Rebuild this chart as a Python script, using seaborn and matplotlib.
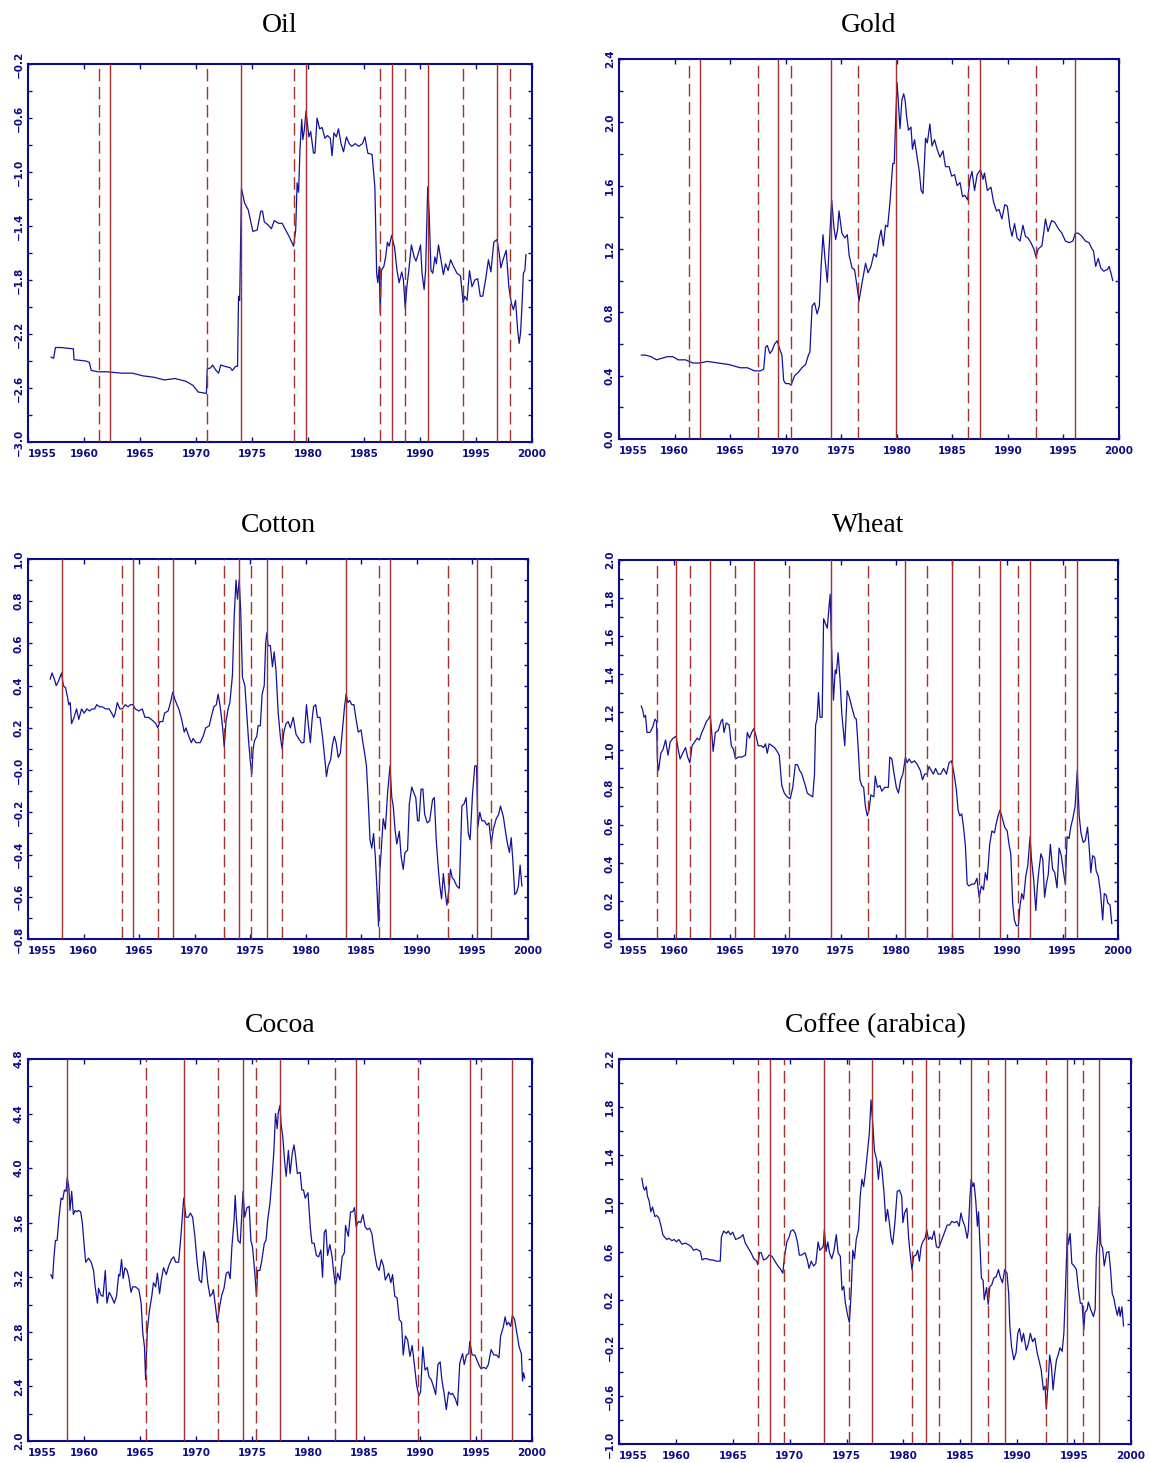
import matplotlib
matplotlib.use('Agg')
import matplotlib.pyplot as plt
import seaborn as sns
import pandas as pd
from matplotlib.ticker import MultipleLocator

sns.set_theme(style='white')
plt.rcParams['font.family'] = ['DejaVu Sans']
plt.rcParams['axes.unicode_minus'] = True

# ---------------- data (year, value) ----------------
OIL = [(1957.04,-2.37),(1957.29,-2.38),(1957.45,-2.30),(1957.93,-2.30),(1959.05,-2.31),(1959.11,-2.39),(1960.16,-2.40),(1960.48,-2.41),(1960.64,-2.47),(1961.28,-2.48),(1962.07,-2.48),(1963.35,-2.49),(1964.31,-2.49),(1965.26,-2.51),(1966.22,-2.52),(1967.17,-2.54),(1968.13,-2.53),(1969.09,-2.55),(1969.72,-2.58),(1970.2,-2.63),(1970.93,-2.64),(1971.0,-2.46),(1971.32,-2.45),(1971.48,-2.43),(1971.79,-2.47),(1972.02,-2.49),(1972.21,-2.43),(1972.59,-2.44),(1973.07,-2.45),(1973.23,-2.47),(1973.55,-2.44),(1973.71,-2.44),(1973.8,-1.92),(1973.9,-1.95),(1974.06,-1.12),(1974.34,-1.23),(1974.66,-1.28),(1975.08,-1.44),(1975.46,-1.43),(1975.78,-1.29),(1975.94,-1.29),(1976.1,-1.37),(1976.41,-1.39),(1976.73,-1.42),(1976.99,-1.36),(1977.37,-1.38),(1977.69,-1.38),(1978.33,-1.48),(1978.71,-1.55),(1978.9,-1.43),(1979.03,-1.08),(1979.16,-1.15),(1979.28,-0.84),(1979.44,-0.61),(1979.54,-0.76),(1979.67,-0.69),(1979.82,-0.55),(1980.08,-0.74),(1980.24,-0.70),(1980.49,-0.86),(1980.62,-0.86),(1980.81,-0.60),(1981.04,-0.68),(1981.26,-0.67),(1981.51,-0.75),(1981.74,-0.73),(1981.99,-0.75),(1982.15,-0.88),(1982.31,-0.71),(1982.53,-0.74),(1982.72,-0.68),(1982.95,-0.79),(1983.17,-0.85),(1983.43,-0.74),(1983.68,-0.79),(1983.9,-0.81),(1984.22,-0.79),(1984.54,-0.81),(1984.86,-0.79),(1985.08,-0.74),(1985.34,-0.86),(1985.72,-0.87),(1985.97,-1.11),(1986.13,-1.75),(1986.23,-1.82),(1986.36,-1.70),(1986.45,-2.05),(1986.55,-1.73),(1986.77,-1.70),(1986.93,-1.63),(1987.09,-1.52),(1987.25,-1.55),(1987.47,-1.47),(1987.73,-1.56),(1987.95,-1.73),(1988.14,-1.82),(1988.37,-1.74),(1988.52,-1.80),(1988.68,-2.01),(1988.84,-1.84),(1989.0,-1.73),(1989.23,-1.54),(1989.48,-1.63),(1989.64,-1.66),(1989.86,-1.60),(1990.05,-1.54),(1990.18,-1.75),(1990.37,-1.87),(1990.5,-1.73),(1990.69,-1.11),(1990.82,-1.31),(1990.98,-1.73),(1991.14,-1.75),(1991.33,-1.63),(1991.46,-1.68),(1991.65,-1.54),(1991.87,-1.65),(1992.09,-1.76),(1992.28,-1.68),(1992.51,-1.73),(1992.73,-1.65),(1992.99,-1.70),(1993.3,-1.75),(1993.62,-1.77),(1993.85,-1.97),(1994.0,-1.92),(1994.2,-1.95),(1994.42,-1.73),(1994.64,-1.85),(1994.9,-1.80),(1995.15,-1.79),(1995.38,-1.92),(1995.6,-1.92),(1995.85,-1.80),(1996.11,-1.65),(1996.33,-1.74),(1996.59,-1.52),(1996.87,-1.50),(1997.07,-1.60),(1997.22,-1.71),(1997.45,-1.64),(1997.7,-1.58),(1997.93,-1.85),(1998.15,-1.97),(1998.34,-2.02),(1998.53,-1.95),(1998.72,-2.17),(1998.85,-2.27),(1998.98,-2.19),(1999.1,-2.00),(1999.23,-1.75),(1999.36,-1.73),(1999.46,-1.61)]

GOLD = [(1957.0,0.53),(1957.39,0.53),(1957.88,0.52),(1958.37,0.50),(1958.86,0.51),(1959.35,0.52),(1959.84,0.52),(1960.33,0.50),(1960.99,0.50),(1961.64,0.48),(1962.3,0.48),(1962.95,0.49),(1963.93,0.48),(1964.91,0.47),(1965.9,0.45),(1966.55,0.45),(1967.21,0.43),(1967.7,0.43),(1968.02,0.44),(1968.19,0.58),(1968.35,0.59),(1968.58,0.54),(1968.78,0.56),(1969.01,0.60),(1969.23,0.62),(1969.5,0.56),(1969.66,0.53),(1969.82,0.37),(1969.99,0.35),(1970.31,0.35),(1970.48,0.34),(1970.81,0.40),(1971.13,0.42),(1971.46,0.45),(1971.79,0.47),(1972.05,0.53),(1972.18,0.55),(1972.38,0.84),(1972.6,0.86),(1972.83,0.79),(1973.03,0.84),(1973.19,1.09),(1973.36,1.29),(1973.55,1.13),(1973.75,0.99),(1973.95,1.26),(1974.14,1.51),(1974.34,1.34),(1974.5,1.26),(1974.67,1.32),(1974.8,1.44),(1975.06,1.30),(1975.32,1.27),(1975.55,1.29),(1975.71,1.16),(1975.98,1.08),(1976.2,1.07),(1976.43,0.96),(1976.6,0.87),(1976.76,0.94),(1976.96,1.02),(1977.19,1.11),(1977.41,1.05),(1977.68,1.09),(1977.94,1.17),(1978.17,1.15),(1978.4,1.26),(1978.59,1.32),(1978.79,1.22),(1978.99,1.35),(1979.18,1.34),(1979.38,1.49),(1979.64,1.74),(1979.77,1.74),(1979.9,2.02),(1980.03,2.25),(1980.16,2.10),(1980.29,1.96),(1980.46,2.14),(1980.62,2.18),(1980.75,2.14),(1980.88,2.04),(1981.05,1.95),(1981.28,1.97),(1981.41,1.83),(1981.6,1.89),(1981.83,1.78),(1982.03,1.69),(1982.19,1.57),(1982.36,1.55),(1982.59,1.90),(1982.75,1.87),(1982.98,1.99),(1983.17,1.85),(1983.4,1.89),(1983.63,1.83),(1983.89,1.78),(1984.16,1.82),(1984.38,1.72),(1984.71,1.72),(1984.94,1.66),(1985.2,1.67),(1985.43,1.60),(1985.69,1.62),(1985.92,1.53),(1986.12,1.54),(1986.38,1.51),(1986.58,1.64),(1986.77,1.69),(1987.0,1.57),(1987.23,1.67),(1987.53,1.70),(1987.76,1.64),(1987.89,1.68),(1988.15,1.57),(1988.48,1.59),(1988.7,1.50),(1988.97,1.44),(1989.2,1.45),(1989.46,1.39),(1989.72,1.48),(1989.95,1.47),(1990.18,1.34),(1990.37,1.28),(1990.6,1.36),(1990.83,1.27),(1991.09,1.25),(1991.35,1.35),(1991.58,1.28),(1991.81,1.27),(1992.07,1.24),(1992.34,1.20),(1992.53,1.15),(1992.73,1.20),(1993.06,1.22),(1993.22,1.30),(1993.38,1.39),(1993.61,1.31),(1993.94,1.38),(1994.2,1.37),(1994.53,1.33),(1994.86,1.30),(1995.18,1.25),(1995.51,1.24),(1995.84,1.25),(1996.07,1.30),(1996.33,1.30),(1996.66,1.28),(1996.98,1.25),(1997.31,1.24),(1997.57,1.20),(1997.7,1.19),(1997.9,1.09),(1998.13,1.14),(1998.36,1.08),(1998.62,1.06),(1998.95,1.07),(1999.11,1.09),(1999.27,1.05),(1999.44,1.00)]

COTTON = [(1956.99,0.43),(1957.16,0.46),(1957.38,0.43),(1957.54,0.40),(1957.73,0.42),(1958.02,0.46),(1958.18,0.40),(1958.38,0.39),(1958.54,0.35),(1958.67,0.31),(1958.8,0.32),(1958.92,0.22),(1959.15,0.25),(1959.37,0.29),(1959.57,0.24),(1959.82,0.29),(1960.05,0.27),(1960.31,0.29),(1960.53,0.28),(1960.79,0.29),(1961.01,0.29),(1961.18,0.31),(1961.43,0.30),(1961.69,0.30),(1961.98,0.29),(1962.3,0.29),(1962.53,0.27),(1962.72,0.25),(1962.85,0.27),(1963.04,0.32),(1963.27,0.29),(1963.49,0.29),(1963.75,0.31),(1964.01,0.30),(1964.23,0.31),(1964.46,0.31),(1964.65,0.29),(1964.97,0.28),(1965.29,0.29),(1965.52,0.25),(1965.84,0.25),(1966.1,0.24),(1966.32,0.23),(1966.51,0.22),(1966.68,0.20),(1966.87,0.23),(1967.13,0.23),(1967.29,0.27),(1967.61,0.28),(1967.87,0.33),(1968.03,0.37),(1968.25,0.33),(1968.57,0.29),(1968.83,0.24),(1969.06,0.18),(1969.22,0.20),(1969.47,0.16),(1969.7,0.13),(1969.86,0.15),(1970.12,0.13),(1970.5,0.13),(1970.76,0.16),(1970.99,0.20),(1971.31,0.21),(1971.53,0.26),(1971.73,0.30),(1971.95,0.31),(1972.11,0.36),(1972.3,0.30),(1972.5,0.21),(1972.66,0.11),(1972.82,0.23),(1973.01,0.29),(1973.17,0.32),(1973.4,0.45),(1973.56,0.73),(1973.72,0.90),(1973.85,0.81),(1974.01,0.90),(1974.14,0.76),(1974.3,0.44),(1974.52,0.40),(1974.68,0.27),(1974.85,0.14),(1975.01,0.04),(1975.14,-0.02),(1975.26,0.10),(1975.39,0.14),(1975.59,0.16),(1975.71,0.21),(1975.91,0.21),(1976.07,0.36),(1976.26,0.40),(1976.39,0.60),(1976.49,0.65),(1976.61,0.59),(1976.81,0.59),(1977.0,0.49),(1977.16,0.56),(1977.32,0.47),(1977.52,0.27),(1977.71,0.16),(1977.87,0.10),(1978.03,0.18),(1978.22,0.22),(1978.42,0.23),(1978.61,0.20),(1978.87,0.25),(1979.12,0.17),(1979.35,0.15),(1979.61,0.13),(1979.83,0.13),(1980.06,0.31),(1980.22,0.22),(1980.41,0.13),(1980.57,0.24),(1980.7,0.30),(1980.89,0.31),(1981.05,0.25),(1981.28,0.25),(1981.5,0.16),(1981.7,0.06),(1981.86,-0.03),(1982.02,0.02),(1982.24,0.05),(1982.4,0.12),(1982.57,0.16),(1982.73,0.13),(1982.92,0.06),(1983.11,0.08),(1983.3,0.19),(1983.47,0.29),(1983.63,0.36),(1983.79,0.32),(1983.95,0.33),(1984.14,0.31),(1984.33,0.31),(1984.53,0.24),(1984.72,0.18),(1984.98,0.19),(1985.14,0.13),(1985.3,0.08),(1985.46,0.02),(1985.62,-0.14),(1985.78,-0.33),(1985.94,-0.37),(1986.1,-0.30),(1986.26,-0.41),(1986.42,-0.58),(1986.55,-0.74),(1986.65,-0.49),(1986.78,-0.39),(1986.97,-0.23),(1987.16,-0.28),(1987.36,-0.11),(1987.58,0.02),(1987.74,-0.13),(1987.87,-0.17),(1988.03,-0.28),(1988.19,-0.35),(1988.42,-0.29),(1988.58,-0.41),(1988.77,-0.47),(1988.93,-0.39),(1989.16,-0.38),(1989.32,-0.16),(1989.54,-0.08),(1989.74,-0.11),(1989.9,-0.13),(1990.06,-0.24),(1990.19,-0.24),(1990.38,-0.09),(1990.54,-0.09),(1990.7,-0.21),(1990.93,-0.25),(1991.15,-0.24),(1991.41,-0.14),(1991.57,-0.13),(1991.73,-0.32),(1991.89,-0.44),(1992.05,-0.54),(1992.22,-0.61),(1992.38,-0.49),(1992.54,-0.57),(1992.7,-0.64),(1992.86,-0.58),(1993.02,-0.47),(1993.18,-0.51),(1993.34,-0.52),(1993.6,-0.55),(1993.82,-0.56),(1994.05,-0.17),(1994.24,-0.16),(1994.43,-0.13),(1994.63,-0.30),(1994.79,-0.33),(1995.01,-0.11),(1995.21,0.02),(1995.37,0.02),(1995.49,-0.27),(1995.66,-0.20),(1995.85,-0.24),(1996.07,-0.24),(1996.3,-0.26),(1996.49,-0.25),(1996.69,-0.35),(1996.88,-0.28),(1997.14,-0.23),(1997.36,-0.21),(1997.52,-0.17),(1997.78,-0.22),(1998.0,-0.30),(1998.16,-0.35),(1998.33,-0.39),(1998.49,-0.32),(1998.65,-0.44),(1998.81,-0.59),(1998.97,-0.58),(1999.13,-0.55),(1999.29,-0.45),(1999.45,-0.55)]

WHEAT = [(1957.0,1.23),(1957.13,1.21),(1957.26,1.17),(1957.39,1.18),(1957.52,1.09),(1957.79,1.09),(1958.05,1.12),(1958.24,1.16),(1958.38,1.15),(1958.47,0.93),(1958.57,0.89),(1958.77,0.98),(1958.97,1.00),(1959.2,1.05),(1959.42,0.97),(1959.62,1.04),(1959.88,1.06),(1960.15,1.07),(1960.34,1.00),(1960.51,0.95),(1960.74,0.98),(1961.0,1.01),(1961.19,0.96),(1961.39,0.93),(1961.59,1.02),(1961.82,1.04),(1962.05,1.06),(1962.24,1.05),(1962.47,1.09),(1962.7,1.12),(1962.9,1.15),(1963.06,1.16),(1963.23,1.18),(1963.36,1.09),(1963.49,0.99),(1963.69,1.09),(1963.95,1.10),(1964.21,1.15),(1964.34,1.16),(1964.47,1.09),(1964.67,1.14),(1964.93,1.13),(1965.13,1.02),(1965.32,1.00),(1965.52,0.95),(1965.75,0.96),(1966.08,0.96),(1966.41,0.97),(1966.57,1.09),(1966.77,1.06),(1966.96,1.09),(1967.16,1.11),(1967.36,1.07),(1967.55,1.02),(1967.82,1.02),(1968.04,1.01),(1968.21,1.03),(1968.37,0.98),(1968.54,1.03),(1968.8,1.02),(1969.03,1.01),(1969.26,0.99),(1969.45,0.97),(1969.68,0.81),(1969.91,0.77),(1970.17,0.75),(1970.44,0.74),(1970.67,0.80),(1970.9,0.92),(1971.09,0.92),(1971.29,0.89),(1971.49,0.87),(1971.75,0.82),(1971.98,0.77),(1972.21,0.76),(1972.47,0.75),(1972.63,0.87),(1972.73,1.13),(1972.86,1.16),(1972.99,1.30),(1973.13,1.17),(1973.32,1.17),(1973.45,1.69),(1973.78,1.64),(1974.04,1.82),(1974.17,1.54),(1974.34,1.26),(1974.5,1.42),(1974.6,1.40),(1974.76,1.51),(1974.93,1.37),(1975.09,1.19),(1975.36,1.02),(1975.58,1.31),(1975.75,1.28),(1976.01,1.22),(1976.24,1.17),(1976.4,1.16),(1976.57,1.01),(1976.73,0.84),(1976.89,0.81),(1977.06,0.80),(1977.22,0.70),(1977.39,0.65),(1977.55,0.68),(1977.71,0.76),(1977.98,0.75),(1978.11,0.86),(1978.3,0.80),(1978.53,0.81),(1978.7,0.78),(1978.96,0.80),(1979.29,0.80),(1979.42,0.96),(1979.61,0.95),(1979.81,0.87),(1980.01,0.80),(1980.2,0.77),(1980.4,0.84),(1980.6,0.87),(1980.83,0.96),(1980.99,0.93),(1981.16,0.95),(1981.38,0.93),(1981.65,0.94),(1981.91,0.92),(1982.17,0.89),(1982.37,0.84),(1982.56,0.87),(1982.76,0.87),(1982.96,0.91),(1983.15,0.89),(1983.35,0.87),(1983.55,0.90),(1983.78,0.87),(1984.01,0.87),(1984.27,0.90),(1984.53,0.87),(1984.76,0.93),(1984.99,0.94),(1985.19,0.88),(1985.42,0.79),(1985.58,0.68),(1985.74,0.65),(1985.91,0.66),(1986.07,0.59),(1986.24,0.49),(1986.4,0.29),(1986.56,0.28),(1986.83,0.29),(1987.06,0.29),(1987.28,0.32),(1987.48,0.22),(1987.68,0.28),(1987.87,0.26),(1988.04,0.35),(1988.2,0.31),(1988.43,0.50),(1988.63,0.57),(1988.86,0.56),(1989.02,0.61),(1989.19,0.65),(1989.35,0.68),(1989.51,0.65),(1989.78,0.59),(1990.01,0.57),(1990.17,0.50),(1990.33,0.45),(1990.5,0.19),(1990.66,0.10),(1990.83,0.07),(1991.02,0.07),(1991.15,0.17),(1991.32,0.24),(1991.48,0.21),(1991.68,0.33),(1991.87,0.39),(1992.07,0.54),(1992.2,0.42),(1992.4,0.31),(1992.59,0.15),(1992.73,0.28),(1992.86,0.36),(1993.05,0.45),(1993.22,0.42),(1993.38,0.22),(1993.54,0.29),(1993.71,0.34),(1993.9,0.50),(1994.1,0.37),(1994.3,0.35),(1994.5,0.27),(1994.69,0.48),(1994.89,0.44),(1995.09,0.35),(1995.25,0.29),(1995.41,0.54),(1995.58,0.53),(1995.74,0.59),(1995.94,0.64),(1996.13,0.70),(1996.33,0.89),(1996.5,0.65),(1996.66,0.56),(1996.86,0.51),(1997.05,0.52),(1997.25,0.59),(1997.38,0.50),(1997.55,0.35),(1997.71,0.44),(1997.9,0.43),(1998.03,0.36),(1998.23,0.33),(1998.43,0.24),(1998.62,0.10),(1998.76,0.24),(1998.95,0.23),(1999.08,0.19),(1999.28,0.18),(1999.44,0.08)]

COCOA = [(1957.04,3.22),(1957.2,3.19),(1957.3,3.33),(1957.45,3.47),(1957.6,3.47),(1957.75,3.62),(1957.95,3.78),(1958.1,3.77),(1958.25,3.84),(1958.4,3.83),(1958.5,3.93),(1958.65,3.86),(1958.75,3.69),(1958.9,3.83),(1959.05,3.66),(1959.2,3.69),(1959.35,3.68),(1959.5,3.69),(1959.7,3.68),(1959.85,3.60),(1960.0,3.45),(1960.15,3.31),(1960.4,3.34),(1960.65,3.31),(1960.85,3.25),(1961.0,3.13),(1961.2,3.01),(1961.3,3.12),(1961.5,3.07),(1961.7,3.06),(1961.9,3.25),(1962.05,3.01),(1962.25,3.09),(1962.45,3.06),(1962.7,3.01),(1962.9,3.06),(1963.1,3.22),(1963.2,3.21),(1963.35,3.33),(1963.5,3.19),(1963.65,3.27),(1963.85,3.25),(1964.0,3.20),(1964.2,3.09),(1964.35,3.13),(1964.6,3.13),(1964.9,3.11),(1965.1,3.01),(1965.25,2.79),(1965.4,2.69),(1965.5,2.45),(1965.65,2.81),(1965.85,2.96),(1966.05,3.06),(1966.2,3.16),(1966.4,3.13),(1966.55,3.23),(1966.75,3.08),(1966.9,3.18),(1967.1,3.27),(1967.35,3.22),(1967.55,3.28),(1967.8,3.33),(1968.0,3.35),(1968.2,3.31),(1968.45,3.31),(1968.65,3.50),(1968.9,3.78),(1969.1,3.64),(1969.3,3.64),(1969.5,3.67),(1969.7,3.64),(1969.9,3.50),(1970.1,3.31),(1970.3,3.18),(1970.5,3.16),(1970.7,3.39),(1970.85,3.33),(1971.05,3.16),(1971.25,3.06),(1971.45,3.08),(1971.55,3.11),(1971.75,2.98),(1971.9,2.87),(1972.1,2.98),(1972.3,3.07),(1972.5,3.12),(1972.7,3.23),(1972.9,3.24),(1973.05,3.19),(1973.2,3.42),(1973.4,3.62),(1973.5,3.80),(1973.6,3.64),(1973.75,3.47),(1973.95,3.45),(1974.1,3.67),(1974.2,3.83),(1974.35,3.64),(1974.55,3.71),(1974.75,3.72),(1974.9,3.47),(1975.05,3.42),(1975.25,3.23),(1975.4,3.06),(1975.5,3.25),(1975.7,3.25),(1975.85,3.31),(1976.1,3.45),(1976.25,3.47),(1976.4,3.62),(1976.6,3.74),(1976.8,3.94),(1976.95,4.12),(1977.1,4.40),(1977.25,4.29),(1977.35,4.41),(1977.5,4.46),(1977.6,4.32),(1977.75,4.23),(1977.9,4.06),(1978.05,3.94),(1978.25,4.13),(1978.4,3.96),(1978.6,4.11),(1978.75,4.17),(1978.9,4.08),(1979.05,3.96),(1979.3,3.97),(1979.45,3.84),(1979.6,3.84),(1979.75,3.78),(1980.0,3.82),(1980.2,3.57),(1980.35,3.45),(1980.55,3.45),(1980.75,3.36),(1980.95,3.35),(1981.15,3.40),(1981.3,3.20),(1981.45,3.53),(1981.6,3.55),(1981.75,3.36),(1981.95,3.44),(1982.15,3.35),(1982.3,3.23),(1982.45,3.14),(1982.65,3.23),(1982.85,3.18),(1983.05,3.35),(1983.25,3.38),(1983.35,3.58),(1983.6,3.50),(1983.8,3.68),(1984.0,3.68),(1984.15,3.71),(1984.3,3.57),(1984.5,3.61),(1984.7,3.60),(1984.9,3.66),(1985.1,3.57),(1985.3,3.55),(1985.5,3.56),(1985.7,3.52),(1985.9,3.40),(1986.15,3.28),(1986.35,3.25),(1986.55,3.33),(1986.75,3.28),(1986.9,3.18),(1987.2,3.23),(1987.4,3.16),(1987.55,3.22),(1987.75,3.06),(1987.95,3.05),(1988.15,2.89),(1988.35,2.87),(1988.5,2.63),(1988.7,2.77),(1988.9,2.74),(1989.1,2.62),(1989.3,2.70),(1989.5,2.56),(1989.7,2.41),(1989.9,2.33),(1990.05,2.36),(1990.25,2.69),(1990.45,2.52),(1990.65,2.54),(1990.8,2.47),(1991.0,2.45),(1991.2,2.40),(1991.4,2.34),(1991.6,2.56),(1991.8,2.58),(1991.95,2.45),(1992.15,2.35),(1992.35,2.23),(1992.55,2.36),(1992.75,2.34),(1992.9,2.35),(1993.15,2.31),(1993.35,2.26),(1993.55,2.57),(1993.8,2.64),(1993.95,2.56),(1994.15,2.63),(1994.35,2.64),(1994.45,2.73),(1994.65,2.63),(1994.9,2.63),(1995.1,2.59),(1995.3,2.55),(1995.45,2.53),(1995.7,2.54),(1995.9,2.53),(1996.1,2.56),(1996.35,2.67),(1996.6,2.63),(1996.85,2.63),(1997.05,2.61),(1997.2,2.77),(1997.45,2.84),(1997.6,2.91),(1997.75,2.85),(1997.9,2.87),(1998.1,2.84),(1998.25,2.92),(1998.45,2.89),(1998.65,2.79),(1998.85,2.69),(1999.05,2.64),(1999.15,2.44),(1999.25,2.50),(1999.35,2.46)]

COFFEE = [(1957.0,1.21),(1957.15,1.13),(1957.25,1.11),(1957.4,1.14),(1957.5,1.06),(1957.65,1.02),(1957.8,0.93),(1957.95,0.97),(1958.15,0.89),(1958.3,0.90),(1958.5,0.88),(1958.7,0.81),(1958.85,0.74),(1959.0,0.72),(1959.2,0.70),(1959.4,0.71),(1959.65,0.69),(1959.85,0.70),(1960.05,0.68),(1960.25,0.70),(1960.55,0.66),(1960.8,0.67),(1961.05,0.66),(1961.35,0.64),(1961.55,0.61),(1961.8,0.62),(1962.15,0.60),(1962.3,0.53),(1962.5,0.54),(1962.75,0.54),(1963.0,0.53),(1963.25,0.53),(1963.55,0.52),(1963.9,0.52),(1964.0,0.72),(1964.2,0.77),(1964.45,0.75),(1964.6,0.77),(1964.8,0.74),(1965.0,0.76),(1965.25,0.70),(1965.5,0.71),(1965.7,0.72),(1965.9,0.74),(1966.1,0.67),(1966.35,0.63),(1966.6,0.59),(1966.85,0.54),(1967.1,0.52),(1967.2,0.49),(1967.35,0.59),(1967.5,0.59),(1967.7,0.53),(1967.95,0.54),(1968.2,0.57),(1968.45,0.56),(1968.7,0.52),(1968.9,0.49),(1969.15,0.46),(1969.4,0.42),(1969.55,0.56),(1969.75,0.68),(1969.95,0.72),(1970.1,0.77),(1970.3,0.78),(1970.5,0.75),(1970.7,0.67),(1970.85,0.57),(1971.05,0.57),(1971.35,0.59),(1971.55,0.53),(1971.7,0.46),(1971.9,0.52),(1972.1,0.48),(1972.3,0.50),(1972.5,0.68),(1972.65,0.61),(1972.95,0.64),(1973.05,0.78),(1973.2,0.60),(1973.35,0.68),(1973.5,0.59),(1973.7,0.54),(1973.9,0.61),(1974.1,0.74),(1974.25,0.59),(1974.45,0.56),(1974.6,0.28),(1974.75,0.31),(1974.9,0.17),(1975.05,0.09),(1975.25,0.01),(1975.4,0.25),(1975.55,0.61),(1975.7,0.54),(1975.85,0.70),(1976.05,0.78),(1976.2,1.06),(1976.35,1.20),(1976.5,1.14),(1976.65,1.25),(1976.85,1.44),(1977.0,1.58),(1977.15,1.86),(1977.3,1.67),(1977.45,1.44),(1977.65,1.36),(1977.8,1.20),(1977.95,1.35),(1978.1,1.29),(1978.3,1.08),(1978.45,0.85),(1978.6,0.95),(1978.75,0.85),(1978.9,0.72),(1979.05,0.66),(1979.25,0.84),(1979.45,1.10),(1979.65,1.11),(1979.85,1.06),(1979.95,0.84),(1980.1,0.92),(1980.3,0.96),(1980.45,0.72),(1980.6,0.57),(1980.75,0.45),(1980.9,0.56),(1981.1,0.57),(1981.25,0.61),(1981.4,0.52),(1981.55,0.64),(1981.7,0.68),(1981.9,0.71),(1982.05,0.78),(1982.2,0.70),(1982.35,0.72),(1982.5,0.70),(1982.7,0.77),(1982.9,0.64),(1983.1,0.63),(1983.3,0.68),(1983.45,0.72),(1983.65,0.77),(1983.85,0.82),(1984.05,0.82),(1984.25,0.85),(1984.5,0.84),(1984.7,0.85),(1984.9,0.81),(1985.05,0.92),(1985.2,0.86),(1985.4,0.81),(1985.6,0.71),(1985.7,0.77),(1985.85,1.06),(1985.95,1.20),(1986.1,1.14),(1986.2,1.17),(1986.35,1.03),(1986.5,0.81),(1986.6,0.93),(1986.75,0.59),(1986.85,0.38),(1987.0,0.36),(1987.1,0.20),(1987.3,0.30),(1987.45,0.16),(1987.6,0.31),(1987.75,0.32),(1987.95,0.38),(1988.15,0.39),(1988.35,0.45),(1988.5,0.39),(1988.7,0.34),(1988.9,0.45),(1989.1,0.42),(1989.25,0.25),(1989.35,-0.02),(1989.5,-0.19),(1989.7,-0.30),(1989.9,-0.24),(1990.05,-0.08),(1990.2,-0.04),(1990.4,-0.15),(1990.55,-0.08),(1990.8,-0.22),(1991.0,-0.16),(1991.15,-0.08),(1991.35,-0.15),(1991.55,-0.12),(1991.75,-0.24),(1991.9,-0.30),(1992.1,-0.38),(1992.3,-0.55),(1992.45,-0.52),(1992.55,-0.71),(1992.7,-0.52),(1992.85,-0.26),(1993.0,-0.35),(1993.15,-0.55),(1993.3,-0.41),(1993.45,-0.30),(1993.6,-0.26),(1993.75,-0.20),(1993.95,-0.23),(1994.1,-0.08),(1994.25,0.31),(1994.4,0.75),(1994.5,0.66),(1994.65,0.75),(1994.8,0.50),(1995.0,0.48),(1995.2,0.45),(1995.35,0.31),(1995.55,0.17),(1995.7,0.17),(1995.85,-0.05),(1995.95,0.09),(1996.15,0.12),(1996.25,0.18),(1996.45,0.12),(1996.7,0.06),(1996.85,0.12),(1996.95,0.56),(1997.1,0.75),(1997.2,0.97),(1997.35,0.66),(1997.5,0.63),(1997.65,0.48),(1997.85,0.59),(1998.05,0.60),(1998.2,0.45),(1998.35,0.25),(1998.5,0.21),(1998.65,0.13),(1998.8,0.07),(1998.95,0.14),(1999.05,0.06),(1999.2,0.14),(1999.35,-0.02)]

# vertical break lines (solid / dashed)
OIL_SOLID = [1962.33, 1974.02, 1979.82, 1987.47, 1990.69, 1996.91]
OIL_DASHED = [1961.34, 1971.0, 1978.71, 1986.45, 1988.68, 1993.85, 1998.08]
GOLD_SOLID = [1962.30, 1969.30, 1974.11, 1979.97, 1987.53, 1996.03]
GOLD_DASHED = [1961.28, 1967.53, 1970.45, 1976.53, 1986.38, 1992.53]
COTTON_SOLID = [1958.06, 1964.42, 1968.03, 1974.01, 1976.49, 1983.59, 1987.58, 1995.37]
COTTON_DASHED = [1963.46, 1966.68, 1972.66, 1975.10, 1977.84, 1986.59, 1992.76, 1996.69]
WHEAT_SOLID = [1960.15, 1963.23, 1967.16, 1974.11, 1980.83, 1985.06, 1989.35, 1992.10, 1996.30]
WHEAT_DASHED = [1958.47, 1961.39, 1965.49, 1970.37, 1977.45, 1982.76, 1987.51, 1991.02, 1995.25]
COCOA_SOLID = [1958.47, 1968.89, 1974.22, 1977.47, 1984.29, 1994.45, 1998.24]
COCOA_DASHED = [1965.52, 1971.92, 1975.39, 1982.40, 1989.86, 1995.47]
COFFEE_SOLID = [1968.23, 1973.06, 1977.21, 1982.01, 1985.94, 1988.91, 1994.37, 1997.22]
COFFEE_DASHED = [1967.18, 1969.51, 1975.23, 1980.79, 1983.12, 1987.44, 1992.49, 1995.81]

# tick values and labels
X_TICKS = [1955, 1960, 1965, 1970, 1975, 1980, 1985, 1990, 1995, 2000]
X_LABELS = ['1955', '1960', '1965', '1970', '1975', '1980', '1985', '1990', '1995', '2000']
OIL_YT = [-3.0, -2.6, -2.2, -1.8, -1.4, -1.0, -0.6, -0.2]
OIL_YL = ['\u22123.0', '\u22122.6', '\u22122.2', '\u22121.8', '\u22121.4', '\u22121.0', '\u22120.6', '\u22120.2']
GOLD_YT = [0.0, 0.4, 0.8, 1.2, 1.6, 2.0, 2.4]
GOLD_YL = ['0.0', '0.4', '0.8', '1.2', '1.6', '2.0', '2.4']
COTTON_YT = [-0.8, -0.6, -0.4, -0.2, 0.0, 0.2, 0.4, 0.6, 0.8, 1.0]
COTTON_YL = ['\u22120.8', '\u22120.6', '\u22120.4', '\u22120.2', '\u22120.0', '0.2', '0.4', '0.6', '0.8', '1.0']
WHEAT_YT = [0.0, 0.2, 0.4, 0.6, 0.8, 1.0, 1.2, 1.4, 1.6, 1.8, 2.0]
WHEAT_YL = ['0.0', '0.2', '0.4', '0.6', '0.8', '1.0', '1.2', '1.4', '1.6', '1.8', '2.0']
COCOA_YT = [2.0, 2.4, 2.8, 3.2, 3.6, 4.0, 4.4, 4.8]
COCOA_YL = ['2.0', '2.4', '2.8', '3.2', '3.6', '4.0', '4.4', '4.8']
COFFEE_YT = [-1.0, -0.6, -0.2, 0.2, 0.6, 1.0, 1.4, 1.8, 2.2]
COFFEE_YL = ['\u22121.0', '\u22120.6', '\u22120.2', '0.2', '0.6', '1.0', '1.4', '1.8', '2.2']

# ---------------- layout / style ----------------
W, H = 1150, 1463
NAVY = '#0c0c86'
LINE_BLUE = '#12129a'
RED = '#a3302c'

panels = [
    dict(title='Oil', data=OIL, solid=OIL_SOLID, dashed=OIL_DASHED, yt=OIL_YT, yl=OIL_YL,
         minor=0.2, box=(28, 64, 532, 442), tb=32),
    dict(title='Gold', data=GOLD, solid=GOLD_SOLID, dashed=GOLD_DASHED, yt=GOLD_YT, yl=GOLD_YL,
         minor=0.2, box=(619, 59, 1119, 439), tb=32),
    dict(title='Cotton', data=COTTON, solid=COTTON_SOLID, dashed=COTTON_DASHED, yt=COTTON_YT, yl=COTTON_YL,
         minor=0.1, box=(28, 559, 528, 939), tb=532),
    dict(title='Wheat', data=WHEAT, solid=WHEAT_SOLID, dashed=WHEAT_DASHED, yt=WHEAT_YT, yl=WHEAT_YL,
         minor=0.1, box=(619, 560, 1118, 939), tb=532),
    dict(title='Cocoa', data=COCOA, solid=COCOA_SOLID, dashed=COCOA_DASHED, yt=COCOA_YT, yl=COCOA_YL,
         minor=0.2, box=(28, 1059, 532, 1441), tb=1032),
    dict(title='Coffee (arabica)', data=COFFEE, solid=COFFEE_SOLID, dashed=COFFEE_DASHED, yt=COFFEE_YT, yl=COFFEE_YL,
         minor=0.2, box=(619, 1059, 1131, 1444), tb=1032),
]

fig = plt.figure(figsize=(W / 100, H / 100), dpi=100)
fig.patch.set_facecolor('white')

for p in panels:
    l, t, r, b = p['box']
    ax = fig.add_axes([l / W, 1 - b / H, (r - l) / W, (b - t) / H])
    ax.set_facecolor('white')
    df = pd.DataFrame(p['data'], columns=['year', 'value'])
    sns.lineplot(data=df, x='year', y='value', ax=ax, color=LINE_BLUE, lw=0.9,
                 estimator=None, sort=False, zorder=2)
    for xv in p['solid']:
        ax.axvline(xv, color=RED, lw=1.0, zorder=3)
    for xv in p['dashed']:
        ax.axvline(xv, color=RED, lw=1.0, ls=(0, (9, 4)), zorder=3)
    ax.set_xlim(1955, 2000)
    ax.set_ylim(p['yt'][0], p['yt'][-1])
    ax.set_xlabel('')
    ax.set_ylabel('')
    ax.set_xticks(X_TICKS)
    ax.set_xticklabels(X_LABELS, fontweight='bold')
    ax.set_yticks(p['yt'])
    ax.set_yticklabels(p['yl'], rotation=90, va='center', fontweight='bold')
    ax.yaxis.set_minor_locator(MultipleLocator(p['minor']))
    for s in ax.spines.values():
        s.set_visible(True)
        s.set_color(NAVY)
        s.set_linewidth(1.5)
    ax.tick_params(axis='both', which='both', direction='in', top=True, right=True,
                   bottom=True, left=True, color=NAVY, labelcolor=NAVY, width=1.0)
    ax.tick_params(axis='x', which='major', length=3.5, pad=5, labelsize=7.5)
    ax.tick_params(axis='y', which='major', length=3.0, pad=3, labelsize=7.5)
    ax.tick_params(axis='y', which='minor', length=3.0)
    ax.xaxis.get_major_ticks()[0].label1.set_horizontalalignment('left')
    ax.grid(False)
    cx = (l + r) / 2
    fig.text(cx / W, 1 - p['tb'] / H, p['title'], ha='center', va='baseline',
             fontsize=20, family=['Liberation Serif', 'DejaVu Serif'], color='black')

fig.savefig('out.png', dpi=100, facecolor='white')
